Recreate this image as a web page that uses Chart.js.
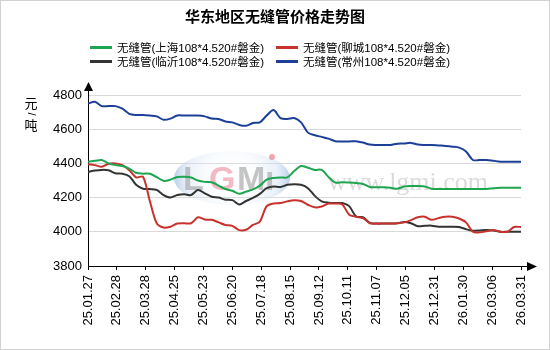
<!DOCTYPE html>
<html>
<head>
<meta charset="utf-8">
<script src="https://cdn.jsdelivr.net/npm/chart.js@4.4.1/dist/chart.umd.min.js"></script>
<style>
  body { margin: 0; background: #fff; }
  #wrap { position: relative; width: 550px; height: 350px; font-family: "Liberation Sans", "Noto Sans CJK SC", sans-serif; }
  #title { position: absolute; left: 0; width: 550px; top: 7px; text-align: center; font-size: 15px; font-weight: bold; line-height: 20px; color: #000; }
  .lg { position: absolute; height: 16px; line-height: 16px; font-size: 11.5px; color: #000; white-space: nowrap; }
  .sw { position: absolute; width: 22px; height: 3px; }
</style>
</head>
<body>
<div id="wrap">
  <canvas id="c" width="550" height="350"></canvas>
  <div id="title">华东地区无缝管价格走势图</div>
  <div id="legend"></div>
</div>
<script>
// x position of each sample (day index), labels every 21 days
const xs = [];
for (let k = 0; k < 64; k++) xs.push(k * 5);

const dateLabels = ['25.01.27', '25.02.28', '25.03.28', '25.04.25', '25.05.23', '25.06.20', '25.07.18', '25.08.15',
  '25.09.12', '25.10.11', '25.11.07', '25.12.05', '25.12.31', '26.01.30', '26.03.06', '26.03.31'];

const yTicks = [3800, 4000, 4200, 4400, 4600, 4800];

const names = ['无缝管(上海108*4.520#磐金)', '无缝管(聊城108*4.520#磐金)', '无缝管(临沂108*4.520#磐金)', '无缝管(常州108*4.520#磐金)'];
const colors = ['#1ea550', '#c8322d', '#333333', '#1c3f97'];

const shanghai = [4410, 4415, 4420, 4400, 4390, 4385, 4370, 4345, 4340, 4340, 4320, 4298, 4305, 4320,
  4322, 4318, 4300, 4292, 4290, 4270, 4250, 4240, 4222, 4235, 4248, 4270,
  4305, 4315, 4318, 4318, 4355, 4385, 4375, 4362, 4362, 4320, 4288, 4290, 4288, 4285, 4280, 4262, 4260,
  4260, 4258, 4252, 4265, 4268, 4268, 4265, 4252, 4250, 4250, 4250, 4250, 4250, 4250, 4250, 4250, 4255,
  4258, 4258, 4258, 4258];

const liaocheng = [4395, 4390, 4380, 4398, 4400, 4390, 4360, 4318, 4322, 4180, 4050, 4025, 4030, 4048,
  4050, 4050, 4085, 4072, 4070, 4055, 4040, 4035, 4010, 4012, 4040, 4060,
  4150, 4165, 4168, 4178, 4185, 4180, 4158, 4143, 4148, 4165, 4165, 4160, 4100, 4088, 4080, 4050, 4048,
  4048, 4048, 4050, 4055, 4068, 4085, 4088, 4070, 4080, 4088, 4088, 4078, 4055, 4000, 3997, 4003, 4010,
  4000, 4000, 4028, 4028];

const linyi = [4350, 4358, 4362, 4360, 4342, 4340, 4325, 4275, 4252, 4250, 4245, 4215, 4200, 4215,
  4220, 4215, 4245, 4225, 4205, 4200, 4188, 4185, 4160, 4180, 4198, 4222,
  4255, 4265, 4262, 4275, 4278, 4275, 4255, 4210, 4178, 4170, 4168, 4168, 4150, 4090, 4085, 4052, 4048,
  4048, 4048, 4050, 4058, 4050, 4033, 4035, 4036, 4030, 4030, 4030, 4028, 4015, 4006, 4008, 4010, 4008,
  4000, 4000, 4000, 4000];

const changzhou = [4750, 4760, 4735, 4735, 4735, 4720, 4690, 4683, 4683, 4680, 4675, 4655, 4662, 4680,
  4680, 4680, 4680, 4675, 4662, 4660, 4645, 4640, 4625, 4620, 4636, 4640,
  4680, 4712, 4665, 4660, 4665, 4640, 4580, 4565, 4555, 4545, 4530, 4528, 4528,
  4530, 4522, 4510, 4508, 4508, 4508, 4515, 4517, 4520, 4510, 4508, 4508,
  4505, 4502, 4498, 4492, 4470, 4420, 4420, 4420, 4415, 4410, 4410, 4410, 4410];

const series = [shanghai, liaocheng, linyi, changzhou];

// legend (2 x 2)
const legend = document.getElementById('legend');
const cols = [90, 276], rows = [47.5, 61.5];
names.forEach((n, i) => {
  const cx = cols[i % 2], cy = rows[Math.floor(i / 2)];
  const sw = document.createElement('div');
  sw.className = 'sw';
  sw.style.left = cx + 'px';
  sw.style.top = (cy - 1.5) + 'px';
  sw.style.background = colors[i];
  legend.appendChild(sw);
  const t = document.createElement('div');
  t.className = 'lg';
  t.style.left = (cx + 27) + 'px';
  t.style.top = (cy - 8) + 'px';
  t.textContent = n;
  legend.appendChild(t);
});

const decor = {
  id: 'decor',
  beforeDatasetsDraw(chart) {
    const ctx = chart.ctx;
    ctx.save();
    // lgmi watermark
    const g = ctx.createRadialGradient(232, 178, 10, 232, 178, 58);
    g.addColorStop(0, 'rgba(255,255,255,0.1)');
    g.addColorStop(0.75, 'rgba(205,222,242,0.45)');
    g.addColorStop(1, 'rgba(150,182,222,0.65)');
    ctx.fillStyle = g;
    ctx.beginPath();
    ctx.ellipse(232, 178, 58, 27, 0, 0, Math.PI * 2);
    ctx.fill();
    ctx.font = 'bold 34px "Liberation Sans"';
    ctx.textBaseline = 'alphabetic';
    ctx.fillStyle = 'rgba(150,150,150,0.55)';
    ctx.fillText('L', 183, 190);
    ctx.fillStyle = 'rgba(235,140,155,0.6)';
    ctx.fillText('G', 209, 190);
    ctx.fillStyle = 'rgba(150,150,150,0.55)';
    ctx.fillText('M', 237, 190);
    ctx.fillText('ı', 265, 190);
    ctx.fillStyle = 'rgba(230,120,130,0.65)';
    ctx.beginPath();
    ctx.arc(272, 157, 3, 0, Math.PI * 2);
    ctx.fill();
    ctx.font = '26px "Liberation Serif"';
    ctx.fillStyle = 'rgba(190,190,190,0.55)';
    ctx.fillText('www.lgmi.com', 328, 190);
    ctx.restore();
  },
  afterDraw(chart) {
    const ctx = chart.ctx;
    const a = chart.chartArea;
    ctx.save();
    ctx.strokeStyle = '#000';
    ctx.fillStyle = '#000';
    ctx.lineWidth = 1;
    ctx.beginPath();
    ctx.moveTo(a.left + 0.5, a.top);
    ctx.lineTo(a.left + 0.5, a.top - 5);
    ctx.moveTo(a.right, a.bottom + 0.5);
    ctx.lineTo(a.right + 7, a.bottom + 0.5);
    ctx.stroke();
    ctx.beginPath();
    ctx.moveTo(a.left + 0.5, a.top - 13);
    ctx.lineTo(a.left - 4, a.top - 4);
    ctx.lineTo(a.left + 5, a.top - 4);
    ctx.closePath();
    ctx.fill();
    ctx.beginPath();
    ctx.moveTo(a.right + 16, a.bottom + 0.5);
    ctx.lineTo(a.right + 6, a.bottom - 4);
    ctx.lineTo(a.right + 6, a.bottom + 5);
    ctx.closePath();
    ctx.fill();
    // unit
    ctx.font = '13px "Noto Sans CJK SC"';
    ctx.textAlign = 'center';
    ctx.textBaseline = 'middle';
    ctx.fillText('元', 31, 103);
    ctx.fillText('吨', 31, 125);
    ctx.save();
    ctx.translate(31, 114);
    ctx.rotate(Math.PI / 2);
    ctx.font = '11px "Liberation Sans"';
    ctx.fillText('/', 0, 0);
    ctx.restore();
    // frame
    ctx.strokeStyle = '#d2d2d2';
    ctx.strokeRect(0.5, 0.5, 549, 349);
    ctx.restore();
  }
};

new Chart(document.getElementById('c'), {
  type: 'line',
  data: {
    datasets: series.map((s, i) => ({
      label: names[i],
      data: s.map((v, j) => ({ x: xs[j], y: v })),
      borderColor: colors[i],
      backgroundColor: colors[i],
      borderWidth: 2,
      pointRadius: 0,
      tension: 0.3,
      fill: false
    }))
  },
  options: {
    responsive: false,
    animation: false,
    layout: { padding: { left: 48, right: 29, top: 95, bottom: 24 } },
    plugins: { legend: { display: false }, title: { display: false }, tooltip: { enabled: false } },
    scales: {
      x: {
        type: 'linear',
        min: 0,
        max: 315,
        afterFit(scale) { scale.height = 60; },
        grid: { drawOnChartArea: false, drawTicks: true, tickLength: 4, tickColor: '#000' },
        border: { color: '#000' },
        ticks: {
          stepSize: 21,
          autoSkip: false,
          minRotation: 90,
          maxRotation: 90,
          padding: 5,
          color: '#000',
          font: { family: '"Liberation Sans"', size: 13 },
          callback: v => dateLabels[Math.round(v / 21)]
        }
      },
      y: {
        min: 3800,
        max: 4800,
        afterFit(scale) { scale.width = 40; },
        afterBuildTicks(scale) { scale.ticks = yTicks.map(v => ({ value: v })); },
        grid: { color: '#d9d9d9', drawTicks: false },
        border: { color: '#000' },
        ticks: {
          padding: 6,
          color: '#000',
          font: { family: '"Liberation Sans"', size: 13 },
          callback: v => String(v)
        }
      }
    }
  },
  plugins: [decor]
});
</script>
</body>
</html>
